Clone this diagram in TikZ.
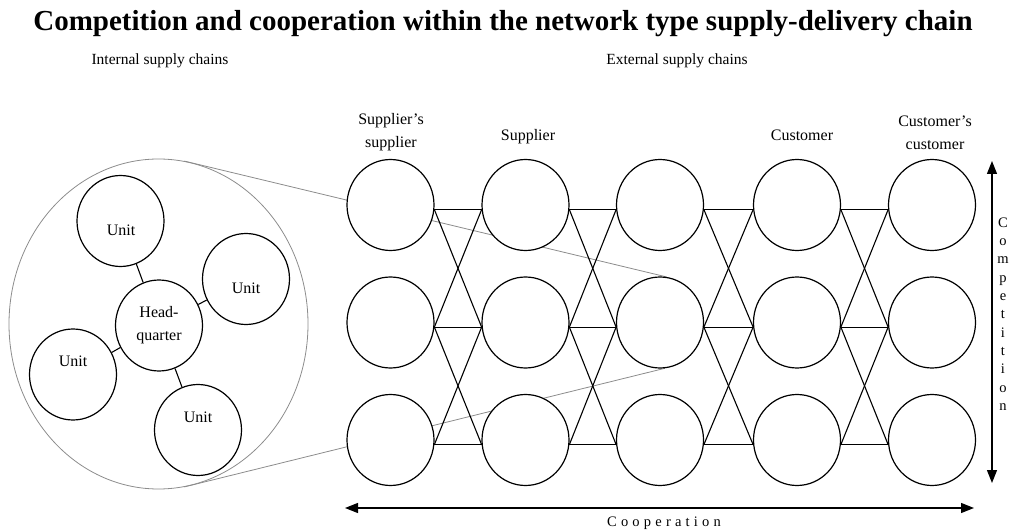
\documentclass[tikz,border=0pt]{standalone}
\usepackage{fontspec}
\setmainfont{Liberation Serif}
\usetikzlibrary{shapes.geometric,arrows.meta}
\pgfdeclarelayer{behind}
\pgfsetlayers{behind,main}
\newcommand\lsp{\kern4.2bp\relax}
\begin{document}
\begin{tikzpicture}[x=1bp,y=-1bp,
  >={Triangle[length=13bp,width=10bp]},
  cell/.style={ellipse, draw, line width=1.2bp, fill=white,
    minimum width=87bp, minimum height=91bp, inner sep=0pt},
  cellfont/.style={font=\fontsize{16bp}{23bp}\selectfont, align=center, inner sep=0pt},
  link/.style={line width=1.1bp},
  zoomline/.style={draw=black!45, line width=0.8bp},
  headfont/.style={font=\fontsize{16bp}{23bp}\selectfont, align=center, inner sep=0pt},
  subfont/.style={font=\fontsize{15.5bp}{19bp}\selectfont, inner sep=0pt},
  axisfont/.style={font=\fontsize{14.5bp}{18.3bp}\selectfont, align=center, inner sep=0pt},
  twoway/.style={<->, line width=1.3bp}]
\useasboundingbox (0,0) rectangle (1010,531);

% heading
\node[font=\fontsize{29bp}{34bp}\selectfont\bfseries, anchor=base, inner sep=0pt] (title) at (503,31)
  {Competition and cooperation within the network type supply-delivery chain};
\node[subfont, anchor=base] (internal) at (160,65) {Internal supply chains};
\node[subfont, anchor=base] (external) at (677,65) {External supply chains};

% the enterprise: headquarter and its units
\node[ellipse, draw=black!45, line width=0.8bp, minimum width=299bp, minimum height=330bp,
  inner sep=0pt] (firm) at (158.5,324) {};
\node[cell, cellfont] (hq) at (159,325.5) {Head-\\quarter};
\node[cell] (u1) at (120.5,221) {};
\node[cell] (u2) at (246,279) {};
\node[cell] (u3) at (73,374.5) {};
\node[cell] (u4) at (198,430) {};
\node[cellfont] (u1t) at (121,230) {Unit};
\node[cellfont] (u2t) at (246,288) {Unit};
\node[cellfont] (u3t) at (73,361) {Unit};
\node[cellfont] (u4t) at (198,417) {Unit};
\foreach \u in {u1,u2,u3,u4} \draw[link] (\u) -- (hq);

% network of companies: 5 tiers x 3 competitors
\foreach \c/\x in {1/390.5,2/525.5,3/660,4/797,5/932}
  \foreach \r/\y in {1/205,2/322.5,3/440}
    \node[cell] (n\c\r) at (\x,\y) {};

\foreach \c [evaluate=\c as \nx using int(\c+1)] in {1,...,4} {
  \foreach \r in {1,2,3}
    \draw[link] (n\c\r.-6) -- (n\nx\r.186);
  \foreach \r/\s in {1/2,2/3} {
    \draw[link] (n\c\r.-6) -- (n\nx\s.186);
    \draw[link] (n\c\s.-6) -- (n\nx\r.186);
  }
}

% magnifying lines from the enterprise to its place in the network
\begin{pgfonlayer}{behind}
  \draw[zoomline] (firm.81) -- (n32.82);
  \draw[zoomline] (firm.-81) -- (n32.-84);
\end{pgfonlayer}

% tier captions
\node[headfont] (t1) at (391,132) {Supplier’s\\supplier};
\node[headfont, anchor=base] (t2) at (528,141) {Supplier};
\node[headfont, anchor=base] (t4) at (802,141) {Customer};
\node[headfont] (t5) at (935,133) {Customer’s\\customer};

% axes
\coordinate (ctop) at (992,161);
\coordinate (cbot) at (992,483);
\draw[twoway] (ctop) -- (cbot);
\node[axisfont] (comp) at (1003,314) {C\\o\\m\\p\\e\\t\\i\\t\\i\\o\\n};

\coordinate (cleft) at (345,508);
\coordinate (cright) at (974,508);
\draw[twoway] (cleft) -- (cright);
\node[axisfont, anchor=base] (coop) at (664,526)
  {C\lsp o\lsp o\lsp p\lsp e\lsp r\lsp a\lsp t\lsp i\lsp o\lsp n};
\end{tikzpicture}
\end{document}
